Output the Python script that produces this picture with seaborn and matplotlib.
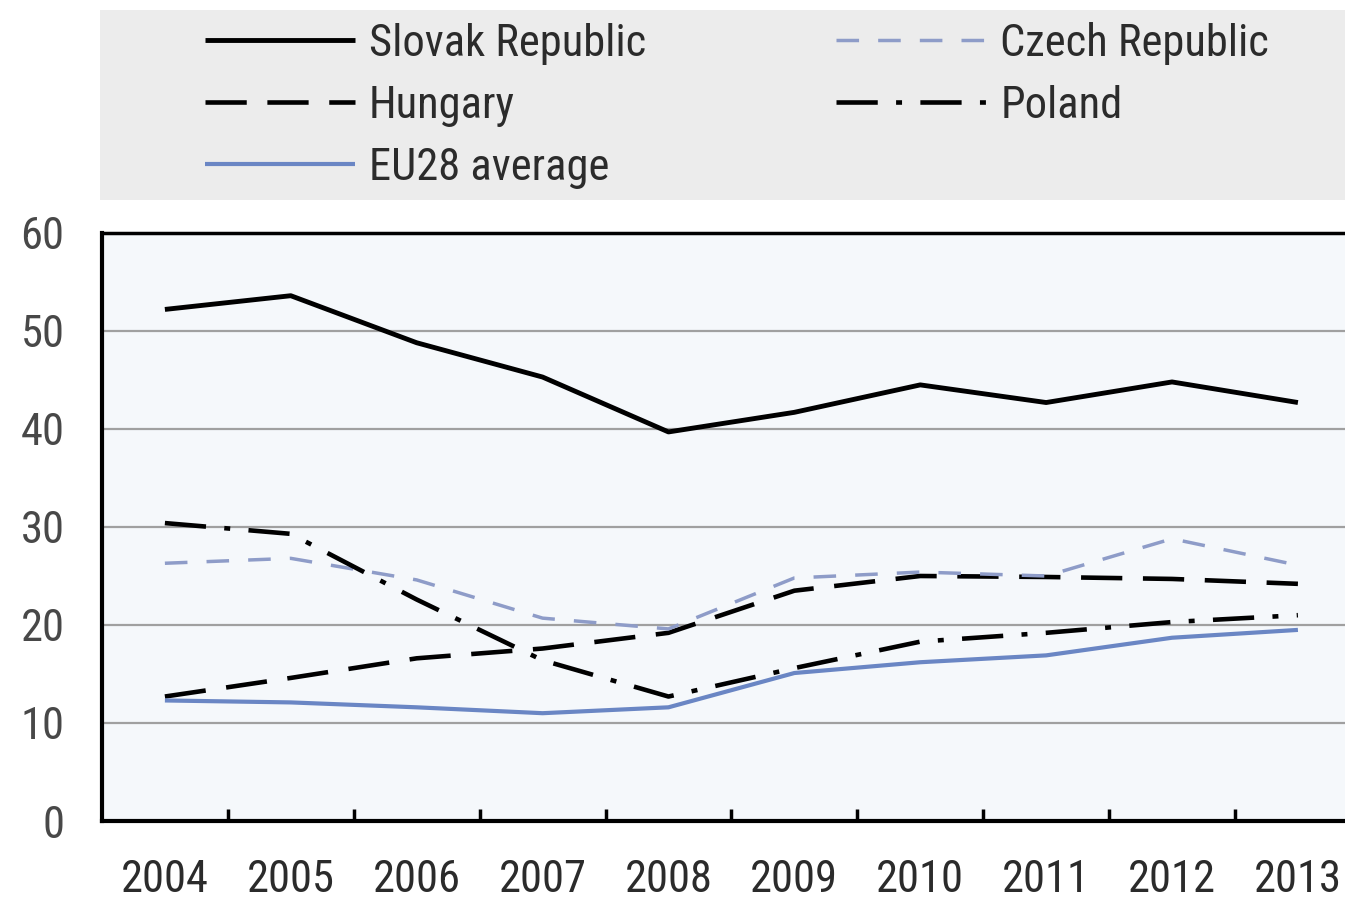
import numpy as np
import pandas as pd
import matplotlib
matplotlib.use("Agg")
import matplotlib.pyplot as plt
from matplotlib import font_manager
import seaborn as sns

# values
years = [2004, 2005, 2006, 2007, 2008, 2009, 2010, 2011, 2012, 2013]
slovak = [52.2, 53.6, 48.8, 45.3, 39.7, 41.7, 44.5, 42.7, 44.8, 42.7]
czech = [26.3, 26.8, 24.6, 20.7, 19.6, 24.8, 25.4, 25.0, 28.8, 26.1]
hungary = [12.7, 14.6, 16.6, 17.6, 19.2, 23.5, 25.0, 24.9, 24.7, 24.2]
poland = [30.4, 29.3, 22.6, 16.4, 12.7, 15.6, 18.3, 19.2, 20.3, 21.0]
eu28 = [12.3, 12.1, 11.6, 11.0, 11.6, 15.1, 16.2, 16.9, 18.7, 19.5]
y_ticks = [0, 10, 20, 30, 40, 50, 60]

series = {
    "Slovak Republic": slovak,
    "Hungary": hungary,
    "EU28 average": eu28,
    "Czech Republic": czech,
    "Poland": poland,
}
styles = {
    "Slovak Republic": dict(color="black", lw=3.5, dashes=None),
    "Hungary": dict(color="black", lw=3.3, dashes=(9.0, 4.5)),
    "EU28 average": dict(color="#6a86c4", lw=3.0, dashes=None),
    "Czech Republic": dict(color="#8e9cc8", lw=2.5, dashes=(6.5, 5.5)),
    "Poland": dict(color="black", lw=3.3, dashes=(9.0, 4.0, 1.3, 4.0)),
}

df = pd.DataFrame(
    [(c, y, v) for c, vals in series.items() for y, v in zip(years, vals)],
    columns=["country", "year", "value"],
)

sns.set_style("white")

# pick a narrow face if one is installed, otherwise shrink DejaVu a bit
fonts = font_manager.fontManager.ttflist
names = {f.name for f in fonts}
stretch = "normal"
if "Liberation Sans Narrow" in names:
    family, fsize = "Liberation Sans Narrow", 33
elif "Roboto Condensed" in names:
    family, fsize = "Roboto Condensed", 32
elif any(f.name == "DejaVu Sans" and f.stretch == "condensed" for f in fonts):
    family, fsize, stretch = "DejaVu Sans", 29, "condensed"
else:
    family, fsize = "DejaVu Sans", 27
plt.rcParams["font.family"] = [family, "DejaVu Sans"]
plt.rcParams["font.stretch"] = stretch
text_color = "#2b2b2b"
em = fsize * 100 / 72  # font size in pixels

fig = plt.figure(figsize=(13.45, 9.02), dpi=100)

# grey legend band at the top
fig.patches.append(plt.Rectangle((0.0744, 0.778), 0.93, 0.211,
                                 transform=fig.transFigure,
                                 facecolor="#ececec", edgecolor="none", zorder=0))

ax = fig.add_axes([0.0758, 0.0898, 0.936, 0.6519])
ax.set_facecolor("#f5f8fb")

for country in series:
    st = styles[country]
    sub = df[df["country"] == country]
    sns.lineplot(data=sub, x="year", y="value", ax=ax, color=st["color"],
                 lw=st["lw"], label=country, legend=False)
    l = ax.lines[-1]
    if st["dashes"] is not None:
        l.set_dashes(st["dashes"])
    l.set_solid_capstyle("butt")
    l.set_dash_capstyle("butt")

ax.set_xlim(2003.5, 2013.5)
ax.set_ylim(0, 60)
ax.set_yticks(y_ticks)
ax.yaxis.grid(True, color="#a0a0a0", lw=1.6)
ax.xaxis.grid(False)
ax.set_axisbelow(True)
ax.set_xlabel("")
ax.set_ylabel("")

ax.set_xticks(years)
ax.set_xticks([y + 0.5 for y in years[:-1]], minor=True)
ax.tick_params(axis="x", which="major", length=0, pad=27, labelsize=fsize,
               labelcolor=text_color)
ax.tick_params(axis="x", which="minor", direction="in", length=9, width=2.5,
               color="black", bottom=True)
ax.tick_params(axis="y", length=0, pad=27, labelsize=fsize, labelcolor="#484848")

for side in ["left", "bottom"]:
    ax.spines[side].set_color("black")
    ax.spines[side].set_linewidth(3)
ax.spines["top"].set_color("black")
ax.spines["top"].set_linewidth(2.5)
ax.spines["right"].set_visible(False)

handles, labels = ax.get_legend_handles_labels()
leg = fig.legend(handles, labels, loc="upper left", ncol=2,
                 bbox_to_anchor=(205 / 1345, 1 - 22 / 902),
                 frameon=False, fontsize=fsize, handlelength=150 / em,
                 handletextpad=14 / em, columnspacing=190 / em,
                 labelspacing=0.45, borderpad=0, borderaxespad=0)
for t in leg.get_texts():
    t.set_color(text_color)

fig.savefig("out.png", dpi=100)
